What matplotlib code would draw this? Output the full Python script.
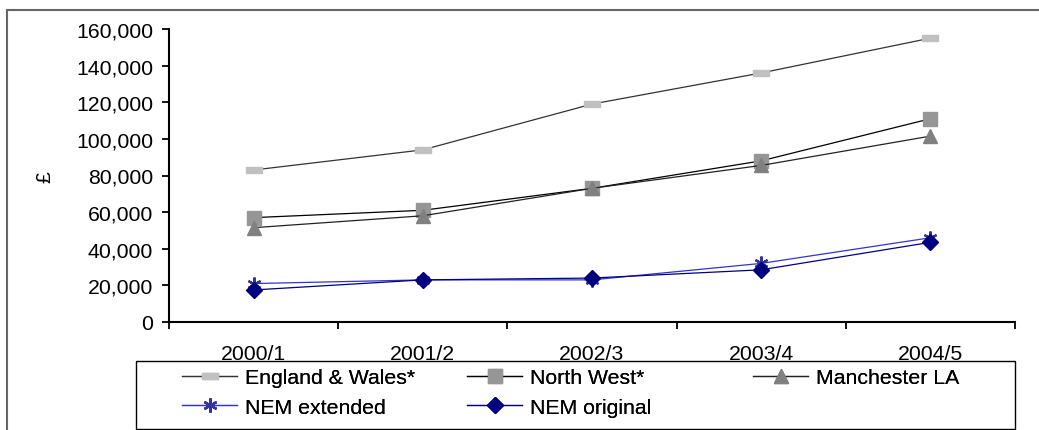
import matplotlib
matplotlib.use("Agg")
import matplotlib.pyplot as plt
from matplotlib.patches import Rectangle
from matplotlib.ticker import FuncFormatter, FixedLocator

plt.rcParams['font.family'] = ['Liberation Sans', 'DejaVu Sans']

years = ["2000/1", "2001/2", "2002/3", "2003/4", "2004/5"]
england_wales = [83000, 94000, 119000, 136000, 155000]
north_west = [57000, 61000, 73000, 88000, 111000]
manchester_la = [51500, 58000, 73000, 85500, 101500]
nem_extended = [21000, 23000, 23000, 32000, 46000]
nem_original = [17500, 23000, 24000, 28500, 43500]

W, H, DPI = 1039, 431, 100
fig = plt.figure(figsize=(W / DPI, H / DPI), dpi=DPI)
FS = 15.3

def fx(px):
    return px / W

def fy(py):
    return 1 - py / H

ax = fig.add_axes([fx(169), fy(323), fx(1015) - fx(169), fy(30) - fy(323)])
x = list(range(1, len(years) + 1))

# flat bar-shaped marker for the England & Wales series
bar_marker = [(-1.3, -0.45), (1.3, -0.45), (1.3, 0.45), (-1.3, 0.45), (-1.3, -0.45)]

l_ew, = ax.plot(x, england_wales, color="#333333", lw=0.9, marker=bar_marker,
                ms=12, mfc="#C0C0C0", mec="#C0C0C0", label="England & Wales*")
l_nw, = ax.plot(x, north_west, color="#000000", lw=0.9, marker="s",
                ms=9.5, mfc="#969696", mec="#969696", label="North West*")
l_ma, = ax.plot(x, manchester_la, color="#222222", lw=0.9, marker="^",
                ms=10.5, mfc="#808080", mec="#808080", label="Manchester LA")
l_ne, = ax.plot(x, nem_extended, color="#3333CC", lw=0.9, marker=(6, 2, 0),
                ms=10, mfc="#333399", mec="#333399", mew=1.6, label="NEM extended")
l_no, = ax.plot(x, nem_original, color="#000080", lw=0.9, marker="D",
                ms=8.5, mfc="#000080", mec="#000080", label="NEM original")

ax.set_xlim(0.5, len(years) + 0.5)
ax.set_ylim(0, 160000)
ax.yaxis.set_major_locator(FixedLocator(range(0, 160001, 20000)))
ax.yaxis.set_major_formatter(FuncFormatter(lambda v, p: f"{int(v):,}"))
ax.tick_params(axis="y", direction="out", length=5, width=1.3, pad=6.5,
               labelsize=FS, colors="black")

ax.set_xticks([i + 0.5 for i in range(0, len(years) + 1)])
ax.set_xticklabels([])
ax.set_xticks(x, minor=True)
ax.set_xticklabels(years, minor=True)
ax.tick_params(axis="x", which="major", direction="out", length=5, width=1.3)
ax.tick_params(axis="x", which="minor", length=0, pad=16, labelsize=FS)

for s in ("top", "right"):
    ax.spines[s].set_visible(False)
for s in ("left", "bottom"):
    ax.spines[s].set_linewidth(1.5)
    ax.spines[s].set_color("black")

fig.text(fx(45), fy(177), "£", rotation=90, ha="center", va="center", fontsize=FS)

# outer chart border
fig.add_artist(Rectangle((fx(7), fy(H + 20)), fx(W + 20) - fx(7), fy(11) - fy(H + 20),
                         transform=fig.transFigure, fill=False, ec="#666666", lw=1.5))

# legend box
fig.add_artist(Rectangle((fx(136), fy(430)), fx(1015) - fx(136), fy(362) - fy(430),
                         transform=fig.transFigure, fill=False, ec="#000000", lw=1.0))

columns = [([l_ew, l_ne], 190), ([l_nw, l_no], 475), ([l_ma], 761)]
for handles, left in columns:
    leg = fig.legend(handles=handles, labels=[h.get_label() for h in handles],
                     loc="upper left", bbox_to_anchor=(fx(left - 8), fy(369)),
                     frameon=False, fontsize=FS, handlelength=2.6,
                     handletextpad=0.35, labelspacing=0.5, borderpad=0,
                     borderaxespad=0, numpoints=1)
    fig.add_artist(leg)

fig.savefig("out.png", dpi=DPI)
